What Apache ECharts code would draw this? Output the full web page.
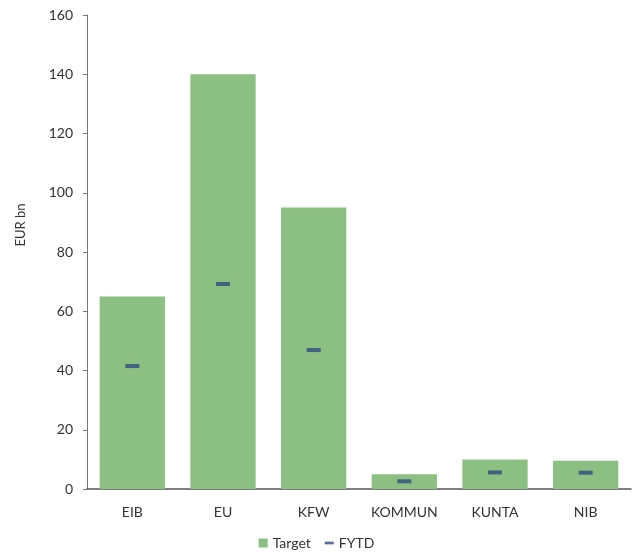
<!DOCTYPE html>
<html>
<head>
<meta charset="utf-8">
<script src="https://cdn.jsdelivr.net/npm/echarts@6/dist/echarts.min.js"></script>
<style>
  html, body { margin: 0; padding: 0; background: #fff; }
  #chart { width: 633px; height: 553px; }
</style>
</head>
<body>
<div id="chart"></div>
<script>
const categories = ["EIB", "EU", "KFW", "KOMMUN", "KUNTA", "NIB"];
const targetValues = [65, 140, 95, 5, 10, 9.5];
const fytdValues = [41.5, 69.2, 46.9, 2.6, 5.6, 5.5];
const yTicks = { min: 0, max: 160, interval: 20 };

const textColor = "#333333";
const fontFamily = "Lato, 'Noto Sans', sans-serif";

const myChart = echarts.init(document.getElementById("chart"));
const option = {
  animation: false,
  textStyle: { fontFamily: fontFamily },
  grid: { left: 87, right: 2, top: 15, bottom: 64 },
  legend: {
    top: 531,
    left: "center",
    itemGap: 14,
    itemWidth: 9,
    itemHeight: 9,
    textStyle: { color: textColor, fontSize: 14, fontFamily: fontFamily },
    data: [
      { name: "Target", icon: "rect" },
      { name: "FYTD", icon: "path://M0,0 L10,0 L10,3 L0,3 Z", itemStyle: { color: "#2F4A7E" } }
    ]
  },
  xAxis: {
    type: "category",
    data: categories,
    axisLine: { lineStyle: { color: "#555555", width: 1.5 } },
    axisTick: { show: false },
    axisLabel: { color: textColor, fontSize: 14, margin: 16 }
  },
  yAxis: {
    type: "value",
    min: yTicks.min,
    max: yTicks.max,
    interval: yTicks.interval,
    name: "EUR bn",
    nameLocation: "middle",
    nameGap: 60,
    nameTextStyle: { color: textColor, fontSize: 13, padding: [0, 0, 0, 54] },
    axisLine: { show: true, lineStyle: { color: "#777777" } },
    axisTick: { show: true, length: 4, lineStyle: { color: "#777777" } },
    axisLabel: { color: textColor, fontSize: 14, margin: 14 },
    splitLine: { show: false }
  },
  series: [
    {
      name: "Target",
      type: "bar",
      data: targetValues,
      barCategoryGap: "28%",
      itemStyle: { color: "#8BC082" }
    },
    {
      name: "FYTD",
      type: "scatter",
      data: fytdValues,
      symbol: "rect",
      symbolSize: [14, 4],
      itemStyle: { color: "#2F4A7E" },
      z: 3
    }
  ]
};
myChart.setOption(option);
</script>
</body>
</html>
